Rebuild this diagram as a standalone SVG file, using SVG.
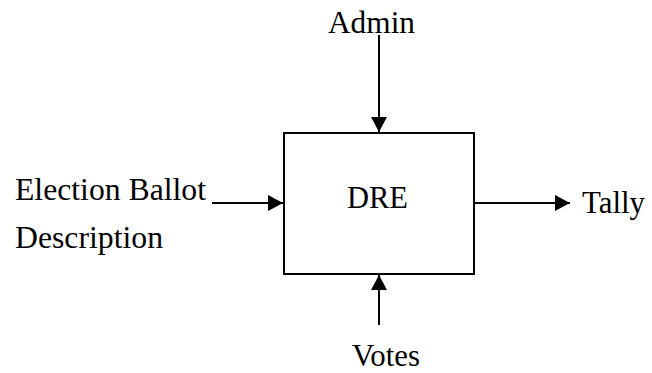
<svg xmlns="http://www.w3.org/2000/svg" width="652" height="373" viewBox="0 0 652 373">
<defs>
<marker id="ah" markerUnits="userSpaceOnUse" markerWidth="16" markerHeight="16" viewBox="0 0 15 16" refX="15" refY="8" orient="auto">
<path d="M0,0 L15,8 L0,16 Z" fill="#000"/>
</marker>
</defs>
<style>
text{font-family:"Liberation Serif","Times New Roman",serif;font-size:31px;fill:#000}
.c{stroke:#000;stroke-width:2;fill:none;marker-end:url(#ah)}
</style>
<rect width="652" height="373" fill="#fff"/>
<g id="dre">
<rect x="284" y="133" width="190" height="141" fill="#fff" stroke="#000" stroke-width="2"/>
<text x="347" y="208" textLength="61" lengthAdjust="spacingAndGlyphs">DRE</text>
</g>
<g id="admin"><text x="328" y="33" textLength="87" lengthAdjust="spacingAndGlyphs">Admin</text></g>
<g id="ballot"><text x="15" y="200" textLength="191" lengthAdjust="spacingAndGlyphs">Election Ballot</text><text x="15" y="248" textLength="148" lengthAdjust="spacingAndGlyphs">Description</text></g>
<g id="tally"><text x="582" y="213" textLength="63" lengthAdjust="spacingAndGlyphs">Tally</text></g>
<g id="votes"><text x="352" y="366" textLength="68" lengthAdjust="spacingAndGlyphs">Votes</text></g>
<g id="connectors">
<line class="c" x1="379" y1="35" x2="379" y2="132"/>
<line class="c" x1="212" y1="203" x2="283" y2="203"/>
<line class="c" x1="475" y1="203" x2="570" y2="203"/>
<line class="c" x1="379" y1="325" x2="379" y2="275"/>
</g>
</svg>
